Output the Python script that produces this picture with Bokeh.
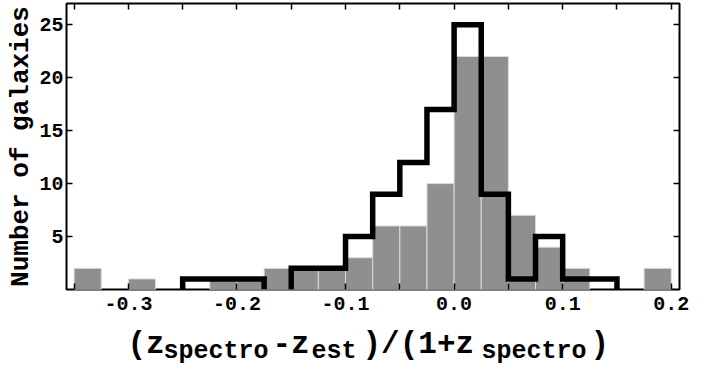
from bokeh.plotting import figure
from bokeh.layouts import column
from bokeh.models import (LinearAxis, FixedTicker, NumeralTickFormatter, Range1d,
                          ColumnDataSource)
from bokeh.core.properties import value
from bokeh.embed import file_html
from bokeh.resources import INLINE

# ---------------- data ----------------
BIN_W = 0.025
bin_left = [-0.350, -0.325, -0.300, -0.275, -0.250, -0.225, -0.200, -0.175,
            -0.150, -0.125, -0.100, -0.075, -0.050, -0.025, 0.000, 0.025,
            0.050, 0.075, 0.100, 0.125, 0.150, 0.175]
gray_counts = [2, 0, 1, 0, 0, 1, 1, 2, 2, 2, 3, 6, 6, 10, 22, 22, 7, 4, 2, 0, 0, 2]
outline_counts = [0, 0, 0, 0, 1, 1, 1, 0, 2, 2, 5, 9, 12, 17, 25, 9, 1, 5, 1, 1, 0, 0]
x_major = [-0.3, -0.2, -0.1, 0.0, 0.1, 0.2]
x_minor = [-0.35, -0.25, -0.15, -0.05, 0.05, 0.15]
y_major = [5, 10, 15, 20, 25]
y_title = "Number of galaxies"
x_title_pieces = ["(z", "spectro", "-z", "est", ")/(1+z", "spectro", " )"]
x_title_is_sub = [False, True, False, True, False, True, False]

# ---------------- layout ----------------
W = 712
H1, H2 = 320, 49
L, R, T, B = 66, 33, 3, 31
X0, X1 = -0.357, 0.2076
Y0, Y1 = 0, 27
FONT = "Liberation Mono"

p = figure(width=W, height=H1, output_backend="svg", toolbar_location=None,
           x_range=Range1d(X0, X1), y_range=Range1d(Y0, Y1),
           min_border_left=L, min_border_right=R, min_border_top=T, min_border_bottom=B,
           x_axis_location=None, y_axis_location=None)
p.grid.visible = False
p.outline_line_color = "black"
p.outline_line_width = 2
p.background_fill_color = "white"
p.border_fill_color = "white"

# gray histogram
bl = [b for b, c in zip(bin_left, gray_counts) if c > 0]
bc = [c for c in gray_counts if c > 0]
src = ColumnDataSource(dict(left=bl, right=[b + BIN_W for b in bl], top=bc))
p.quad(left="left", right="right", top="top", bottom=0, source=src,
       fill_color="#8f8f8f", line_color="#dcdcdc", line_width=1)

# black step histogram
runs_x, runs_y = [], []
cx = cy = None
for b, c in zip(bin_left, outline_counts):
    if c > 0:
        if cx is None:
            cx, cy = [b], [0]
        cx += [b, b + BIN_W]
        cy += [c, c]
    elif cx is not None:
        cx.append(b); cy.append(0)
        runs_x.append(cx); runs_y.append(cy)
        cx = cy = None
if cx is not None:
    cx.append(cx[-1]); cy.append(0)
    runs_x.append(cx); runs_y.append(cy)
p.multi_line(xs=runs_x, ys=runs_y, line_color="black", line_width=5.5,
             line_join="miter")

# axes
def style(ax, labels=True):
    ax.axis_line_color = None
    ax.major_tick_in = 6
    ax.major_tick_out = 0
    ax.minor_tick_in = 6
    ax.minor_tick_out = 0
    ax.major_tick_line_color = "black"
    ax.minor_tick_line_color = "black"
    ax.major_tick_line_width = 1.5
    ax.minor_tick_line_width = 1.5
    ax.major_label_text_font = FONT
    ax.major_label_text_font_style = "bold"
    if labels:
        ax.major_label_text_color = "black"
        ax.major_label_text_font_size = "20px"
    else:
        ax.major_label_text_color = None
        ax.major_label_text_font_size = "0px"
        ax.major_label_standoff = 0

xt = FixedTicker(ticks=x_major, minor_ticks=x_minor)
yt = FixedTicker(ticks=y_major, minor_ticks=[])
bx = LinearAxis(ticker=xt, formatter=NumeralTickFormatter(format="0.0"))
style(bx); bx.major_label_standoff = 7
tx = LinearAxis(ticker=xt); style(tx, False)
ly = LinearAxis(ticker=yt, formatter=NumeralTickFormatter(format="0"))
style(ly); ly.major_label_standoff = 3
ly.axis_label = y_title
ly.axis_label_text_font = FONT
ly.axis_label_text_font_style = "bold"
ly.axis_label_text_font_size = "26px"
ly.axis_label_text_color = "black"
ly.axis_label_standoff = 0
ry = LinearAxis(ticker=yt); style(ry, False)
p.add_layout(bx, "below")
p.add_layout(tx, "above")
p.add_layout(ly, "left")
p.add_layout(ry, "right")

# ---------------- x title row (with subscripts) ----------------
# the column aligns this row's frame with the chart frame, so its x data
# coordinates are page pixels between the chart's left and right edges
t = figure(width=W, height=H2, output_backend="svg", toolbar_location=None,
           x_range=Range1d(L, W - R), y_range=Range1d(0, H2),
           min_border=0, x_axis_location=None, y_axis_location=None)
t.grid.visible = False
t.outline_line_color = None
t.background_fill_color = "white"
t.border_fill_color = "white"

MAIN, SUB = 31, 25
starts = [127, 163, 272, 311, 362, 481, 590]
tx_src = ColumnDataSource(dict(
    x=starts,
    y=[H1 + H2 - (351 if s else 344) for s in x_title_is_sub],
    text=x_title_pieces,
    size=[f"{SUB if s else MAIN}px" for s in x_title_is_sub],
))
t.text(x="x", y="y", text="text", source=tx_src, text_font_size="size",
       text_font=value(FONT), text_font_style="bold", text_color="black",
       text_align="left", text_baseline="alphabetic")

layout = column(p, t, spacing=0)
open("out.html", "w").write(file_html(layout, INLINE))
